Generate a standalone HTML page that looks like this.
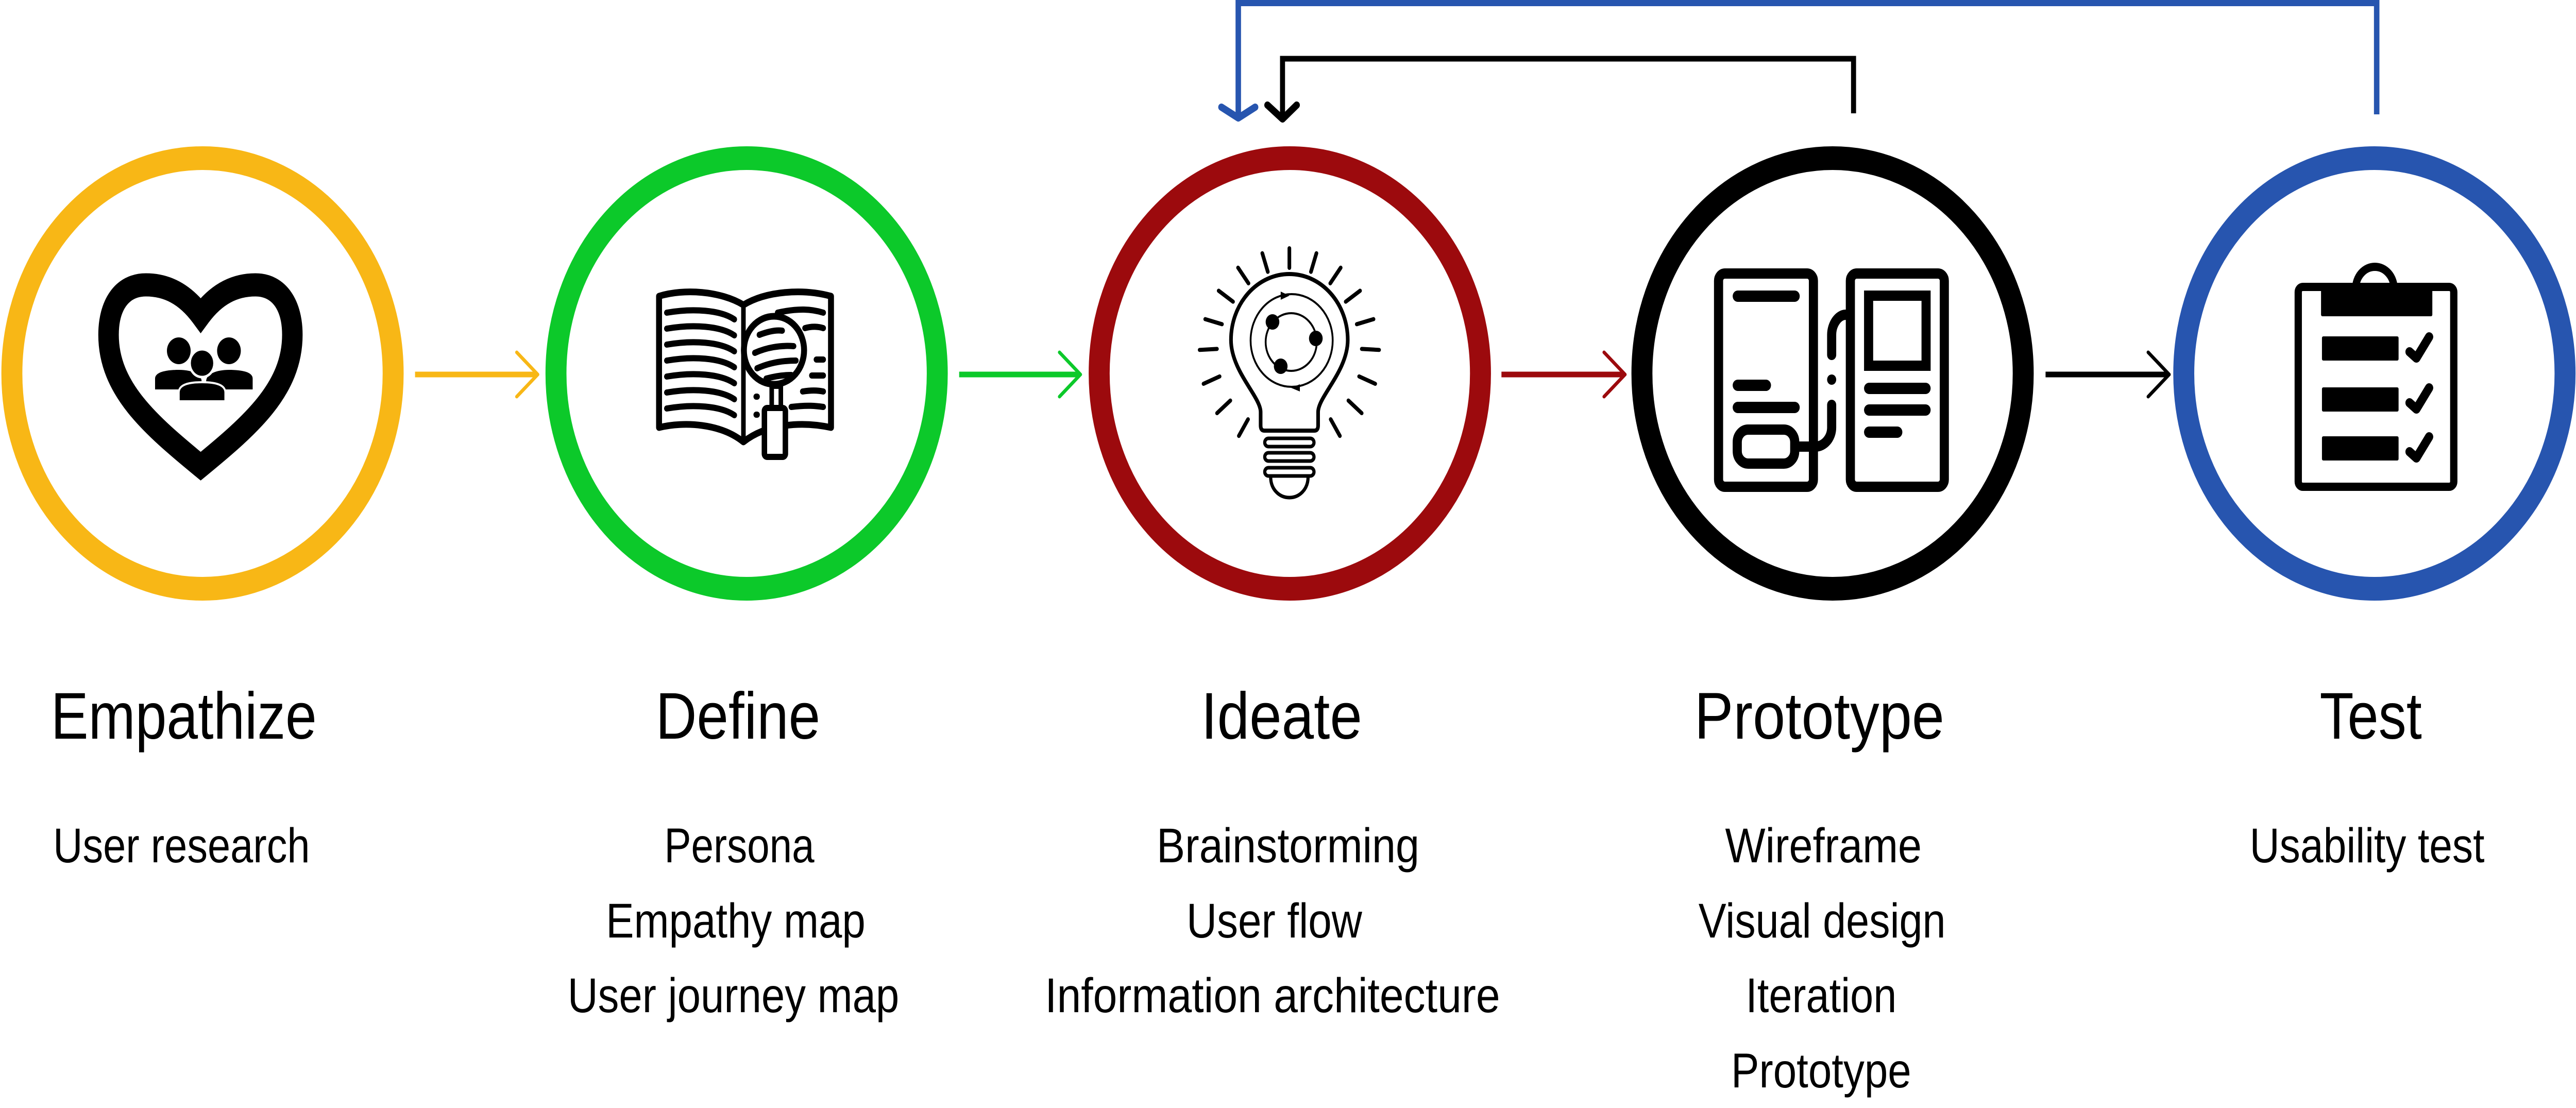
<!DOCTYPE html>
<html><head><meta charset="utf-8"><style>
html,body{margin:0;padding:0;background:#fff;width:100%;height:100%;overflow:hidden;}
svg{display:block;position:fixed;left:0;top:0;width:100vw;height:100vh;}
text{font-family:"Liberation Sans",sans-serif;fill:#000;}
</style></head><body>
<svg viewBox="0 0 5648 2151" preserveAspectRatio="none" xmlns="http://www.w3.org/2000/svg">
<rect width="5648" height="2151" fill="#fff"/>
<g fill="none" stroke-width="46">
<circle cx="444" cy="725" r="418" stroke="#F8B716"/>
<circle cx="1637" cy="725" r="418" stroke="#0CC92A"/>
<circle cx="2828" cy="725" r="418" stroke="#9C0A0D"/>
<circle cx="4018" cy="725" r="418" stroke="#000"/>
<circle cx="5206" cy="725" r="418" stroke="#2755AF"/>
</g>
<g fill="none" stroke-linecap="round" stroke-linejoin="round">
<line x1="910" y1="727" x2="1176" y2="727" stroke="#F8B716" stroke-width="11" stroke-linecap="butt"/>
<polyline points="1133,684 1179,727 1133,770" stroke="#F8B716" stroke-width="7"/>
<line x1="2103" y1="727" x2="2366" y2="727" stroke="#0CC92A" stroke-width="11" stroke-linecap="butt"/>
<polyline points="2323,684 2369,727 2323,770" stroke="#0CC92A" stroke-width="7"/>
<line x1="3292" y1="727" x2="3560" y2="727" stroke="#9C0A0D" stroke-width="11" stroke-linecap="butt"/>
<polyline points="3517,684 3563,727 3517,770" stroke="#9C0A0D" stroke-width="7"/>
<line x1="4485" y1="727" x2="4752" y2="727" stroke="#000" stroke-width="11" stroke-linecap="butt"/>
<polyline points="4710,684 4756,727 4710,770" stroke="#000" stroke-width="7"/>
</g>
<g fill="none">
<polyline points="5211,222 5211,6 2715,6 2715,228" stroke="#2755AF" stroke-width="12"/>
<polyline points="2678,208 2715,229 2752,208" stroke="#2755AF" stroke-width="14" stroke-linecap="round" stroke-linejoin="round"/>
<polyline points="4064,220 4064,114 2812,114 2812,230" stroke="#000" stroke-width="11"/>
<polyline points="2779,204 2812,231 2843,204" stroke="#000" stroke-width="14" stroke-linecap="round" stroke-linejoin="round"/>
</g>
<path d="M440,612 C405,570 365,553 320,553 C265,553 238,595 238,650 C238,755 330,825 440,905 C550,825 641,755 641,650 C641,595 614,553 560,553 C515,553 475,570 440,612 Z" fill="none" stroke="#000" stroke-width="45" stroke-linejoin="miter"/>
<g fill="#000">
<circle cx="392" cy="681" r="26"/><circle cx="502" cy="681" r="26"/>
<path d="M340,756 L340,735 C340,722 365,718 392,718 C420,718 442,726 442,740 L442,756 Z"/>
<path d="M452,756 L452,740 C452,726 475,718 502,718 C530,718 554,722 554,735 L554,756 Z"/>
<circle cx="443" cy="705" r="27" stroke="#fff" stroke-width="5"/>
<path d="M392,779 L392,762 C392,748 410,742 443,742 C476,742 494,748 494,762 L494,779 Z" stroke="#fff" stroke-width="4"/>
</g>
<g fill="none" stroke="#000" stroke-linecap="round" stroke-linejoin="round">
<path d="M1630,592 C1580,565 1500,560 1445,575 L1445,830 C1500,818 1580,822 1630,858 C1680,822 1760,818 1822,830 L1822,575 C1760,560 1680,565 1630,592 Z" stroke-width="13"/>
<line x1="1630" y1="592" x2="1630" y2="855" stroke-width="10"/>
<g stroke-width="12">
<path d="M1462,607 C1520,598 1580,602 1610,620"/>
<path d="M1462,638 C1520,629 1580,633 1610,651"/>
<path d="M1462,669 C1520,660 1580,664 1610,682"/>
<path d="M1462,700 C1520,691 1580,695 1610,713"/>
<path d="M1462,731 C1520,722 1580,726 1610,744"/>
<path d="M1462,762 C1520,753 1580,757 1610,775"/>
<path d="M1462,793 C1520,784 1580,788 1610,806"/>
<path d="M1705,607 C1750,598 1780,600 1805,607"/>
<path d="M1765,637 C1780,633 1795,634 1805,637"/>
<path d="M1790,698 L1805,698"/><path d="M1780,729 L1805,729"/>
<path d="M1760,760 C1780,757 1795,758 1805,760"/>
<path d="M1735,790 C1770,786 1790,788 1805,790"/>
<path d="M1658,770 L1660,770"/><path d="M1658,805 L1660,805"/>
</g>
<circle cx="1697" cy="680" r="66" fill="#fff" stroke-width="13"/>
<g stroke-width="12">
<path d="M1665,650 C1680,645 1700,640 1715,642"/>
<path d="M1655,685 C1680,675 1710,670 1740,672"/>
<path d="M1660,715 C1685,705 1715,700 1745,700"/>
<path d="M1680,735 C1700,730 1720,728 1735,728"/>
</g>
<rect x="1692" y="750" width="20" height="42" fill="#fff" stroke-width="10"/>
<rect x="1676" y="792" width="46" height="95" rx="6" fill="#fff" stroke-width="12"/>
</g>
<g fill="none" stroke="#000" stroke-linecap="round">
<g stroke-width="8">
<line x1="2827" y1="482" x2="2827" y2="520" transform="rotate(0 2827 669)"/>
<line x1="2827" y1="482" x2="2827" y2="520" transform="rotate(18.5 2827 669)"/>
<line x1="2827" y1="482" x2="2827" y2="520" transform="rotate(-18.5 2827 669)"/>
<line x1="2827" y1="482" x2="2827" y2="520" transform="rotate(37 2827 669)"/>
<line x1="2827" y1="482" x2="2827" y2="520" transform="rotate(-37 2827 669)"/>
<line x1="2827" y1="482" x2="2827" y2="520" transform="rotate(56 2827 669)"/>
<line x1="2827" y1="482" x2="2827" y2="520" transform="rotate(-56 2827 669)"/>
<line x1="2827" y1="478" x2="2827" y2="516" transform="rotate(75 2827 669)"/>
<line x1="2827" y1="478" x2="2827" y2="516" transform="rotate(-75 2827 669)"/>
<line x1="2827" y1="472" x2="2827" y2="510" transform="rotate(93 2827 669)"/>
<line x1="2827" y1="472" x2="2827" y2="510" transform="rotate(-93 2827 669)"/>
<line x1="2827" y1="466" x2="2827" y2="504" transform="rotate(112 2827 669)"/>
<line x1="2827" y1="466" x2="2827" y2="504" transform="rotate(-112 2827 669)"/>
<line x1="2827" y1="462" x2="2827" y2="500" transform="rotate(130 2827 669)"/>
<line x1="2827" y1="462" x2="2827" y2="500" transform="rotate(-130 2827 669)"/>
<line x1="2827" y1="460" x2="2827" y2="498" transform="rotate(148 2827 669)"/>
<line x1="2827" y1="460" x2="2827" y2="498" transform="rotate(-148 2827 669)"/>
</g>
<path d="M2772,836 Q2764,836 2764,826 L2764,800 C2764,770 2699,720 2699,660 A128,128 0 1 1 2955,660 C2955,720 2890,770 2890,800 L2890,826 Q2890,836 2882,836 Z" stroke-width="8"/>
<g stroke-width="7">
<rect x="2773" y="851" width="108" height="16" rx="8"/>
<rect x="2773" y="879" width="108" height="16" rx="8"/>
<rect x="2773" y="908" width="108" height="16" rx="8"/>
<path d="M2786,926 C2786,950 2805,966 2827,966 C2849,966 2868,950 2868,926"/>
</g>
<circle cx="2832" cy="661" r="90" stroke-width="4"/>
<circle cx="2831" cy="664" r="56" stroke-width="4"/>
</g>
<g fill="#000">
<circle cx="2790" cy="625" r="15"/><circle cx="2885" cy="657" r="15"/><circle cx="2808" cy="711" r="15"/>
<path d="M2808,566 L2827,574 L2808,582 Z"/><path d="M2850,746 L2831,753 L2850,760 Z"/>
</g>
<g fill="none" stroke="#000" stroke-width="20" stroke-linecap="round">
<rect x="3768" y="531" width="208" height="414" rx="14"/>
<rect x="4057" y="531" width="206" height="414" rx="14"/>
<line x1="3810" y1="575" x2="3935" y2="575" stroke-width="22"/>
<line x1="3810" y1="748" x2="3872" y2="748" stroke-width="22"/>
<line x1="3810" y1="791" x2="3935" y2="791" stroke-width="22"/>
<rect x="3809" y="834" width="126" height="66" rx="24"/>
<path d="M3945,867 L3980,867 C4000,867 4016,850 4016,830 L4016,786"/>
<path d="M4016,689 L4016,650 C4016,630 4030,611 4047,611"/>
<rect x="4097" y="574" width="126" height="136"/>
<line x1="4098" y1="754" x2="4222" y2="754" stroke-width="22"/>
<line x1="4098" y1="796" x2="4222" y2="796" stroke-width="22"/>
<line x1="4098" y1="839" x2="4160" y2="839" stroke-width="22"/>
</g>
<circle cx="4016" cy="737" r="10" fill="#000"/>
<g>
<path d="M5165,560 A42,42 0 0 1 5249,560" fill="none" stroke="#000" stroke-width="16"/>
<rect x="5039" y="557" width="341" height="388" rx="10" fill="none" stroke="#000" stroke-width="16"/>
<rect x="5089" y="549" width="244" height="65" rx="3" fill="#000"/>
<rect x="5091" y="653" width="168" height="47" rx="3" fill="#000"/>
<rect x="5091" y="752" width="168" height="47" rx="3" fill="#000"/>
<rect x="5091" y="847" width="168" height="47" rx="3" fill="#000"/>
<g fill="none" stroke="#000" stroke-width="18" stroke-linejoin="round" stroke-linecap="round">
<polyline points="5283,683 5298,695 5326,654"/>
<polyline points="5283,782 5298,794 5326,753"/>
<polyline points="5283,877 5298,889 5326,848"/>
</g>
</g>
<g font-size="128" text-anchor="middle">
<text x="403" y="1434" textLength="583" lengthAdjust="spacingAndGlyphs">Empathize</text>
<text x="1618" y="1434" textLength="361" lengthAdjust="spacingAndGlyphs">Define</text>
<text x="2810" y="1434" textLength="353" lengthAdjust="spacingAndGlyphs">Ideate</text>
<text x="3989" y="1434" textLength="548" lengthAdjust="spacingAndGlyphs">Prototype</text>
<text x="5198" y="1434" textLength="224" lengthAdjust="spacingAndGlyphs">Test</text>
</g>
<g font-size="95" text-anchor="middle">
<text x="398" y="1674" textLength="563" lengthAdjust="spacingAndGlyphs">User research</text>
<text x="1621" y="1674" textLength="329" lengthAdjust="spacingAndGlyphs">Persona</text>
<text x="1613" y="1820" textLength="569" lengthAdjust="spacingAndGlyphs">Empathy map</text>
<text x="1608" y="1965" textLength="727" lengthAdjust="spacingAndGlyphs">User journey map</text>
<text x="2824" y="1674" textLength="576" lengthAdjust="spacingAndGlyphs">Brainstorming</text>
<text x="2794" y="1820" textLength="385" lengthAdjust="spacingAndGlyphs">User flow</text>
<text x="2790" y="1965" textLength="998" lengthAdjust="spacingAndGlyphs">Information architecture</text>
<text x="3998" y="1674" textLength="431" lengthAdjust="spacingAndGlyphs">Wireframe</text>
<text x="3995" y="1820" textLength="542" lengthAdjust="spacingAndGlyphs">Visual design</text>
<text x="3993" y="1965" textLength="331" lengthAdjust="spacingAndGlyphs">Iteration</text>
<text x="3993" y="2111" textLength="395" lengthAdjust="spacingAndGlyphs">Prototype</text>
<text x="5190" y="1674" textLength="515" lengthAdjust="spacingAndGlyphs">Usability test</text>
</g>
</svg>
</body></html>
